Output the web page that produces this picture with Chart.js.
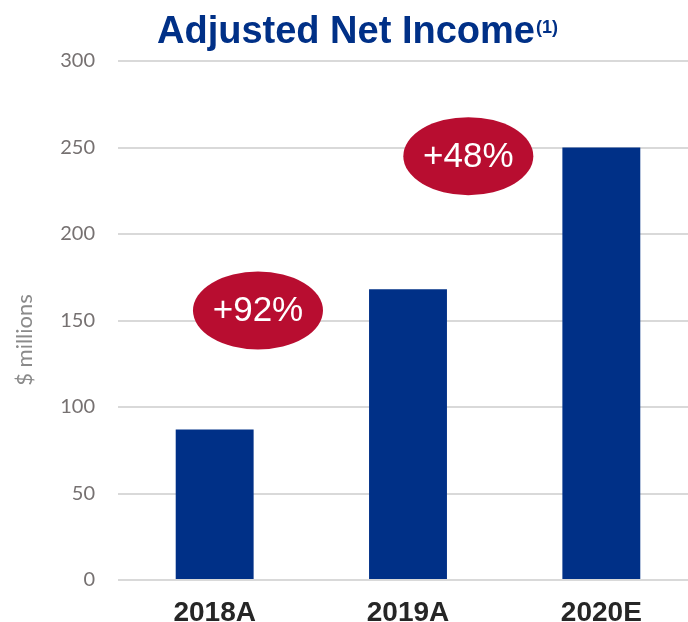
<!DOCTYPE html>
<html>
<head>
<meta charset="utf-8">
<script src="https://cdn.jsdelivr.net/npm/chart.js@4/dist/chart.umd.min.js"></script>
<style>
  html, body { margin: 0; padding: 0; background: #fff; overflow: hidden; }
  #wrap { width: 698px; height: 622px; position: relative; }
</style>
</head>
<body>
<div id="wrap"><canvas id="chart"></canvas></div>
<script>
// data
const years = ["2018A", "2019A", "2020E"];
const netIncome = [87, 168, 250];
const growth = ["+92%", "+48%"];
const yTicks = [0, 50, 100, 150, 200, 250, 300];

const blue = "#003087";
const red = "#B80D30";

// title + y label + growth bubbles, drawn on canvas
const extras = {
  id: "extras",
  afterDatasetsDraw(chart) {
    const ctx = chart.ctx;
    const x = chart.scales.x;
    const y = chart.scales.y;

    // title with superscript note
    ctx.save();
    ctx.fillStyle = blue;
    ctx.textBaseline = "alphabetic";
    ctx.font = "bold 38px 'Liberation Sans', Arial, sans-serif";
    const t = "Adjusted Net Income";
    ctx.fillText(t, 157, 43);
    const w = ctx.measureText(t).width;
    ctx.font = "bold 18px 'Liberation Sans', Arial, sans-serif";
    ctx.fillText("(1)", 157 + w + 1, 33);
    ctx.restore();

    // y axis title
    ctx.save();
    ctx.translate(25, 340);
    ctx.rotate(-Math.PI / 2);
    ctx.fillStyle = "#8a8a8a";
    ctx.font = "22px Lato, sans-serif";
    ctx.textAlign = "center";
    ctx.textBaseline = "middle";
    ctx.fillText("$ millions", 0, 0);
    ctx.restore();

    // growth ellipses
    const spots = [[0.224, 155.8], [1.312, 245]];
    growth.forEach((g, i) => {
      const cx = x.getPixelForValue(spots[i][0]);
      const cy = y.getPixelForValue(spots[i][1]);
      ctx.save();
      ctx.fillStyle = red;
      ctx.beginPath();
      ctx.ellipse(cx, cy, 65, 39, 0, 0, Math.PI * 2);
      ctx.fill();
      ctx.fillStyle = "#fff";
      ctx.font = "35px 'Liberation Sans', Arial, sans-serif";
      ctx.textAlign = "center";
      ctx.textBaseline = "middle";
      ctx.fillText(g, cx, cy + 1);
      ctx.restore();
    });
  }
};

new Chart(document.getElementById("chart"), {
  type: "bar",
  data: {
    labels: years,
    datasets: [{
      data: netIncome,
      backgroundColor: blue,
      categoryPercentage: 1,
      barPercentage: 0.403
    }]
  },
  options: {
    responsive: true,
    maintainAspectRatio: false,
    animation: false,
    layout: { padding: { top: 61, right: 0, left: 0, bottom: 0 } },
    plugins: {
      legend: { display: false },
      tooltip: { enabled: false }
    },
    scales: {
      x: {
        grid: { display: false },
        border: { display: false },
        ticks: {
          color: "#262626",
          font: { family: "'Liberation Sans', Arial, sans-serif", size: 28, weight: "bold" },
          padding: 8
        },
        afterFit: s => { s.height = 42; }
      },
      y: {
        min: 0,
        max: 300,
        afterBuildTicks: s => { s.ticks = yTicks.map(v => ({ value: v })); },
        grid: { color: "#d9d9d9", lineWidth: 2, drawTicks: false },
        border: { display: false },
        ticks: {
          color: "#767171",
          font: { family: "Lato, sans-serif", size: 20 },
          padding: 23
        },
        afterFit: s => { s.width = 118; }
      }
    }
  },
  plugins: [extras]
});
</script>
</body>
</html>
